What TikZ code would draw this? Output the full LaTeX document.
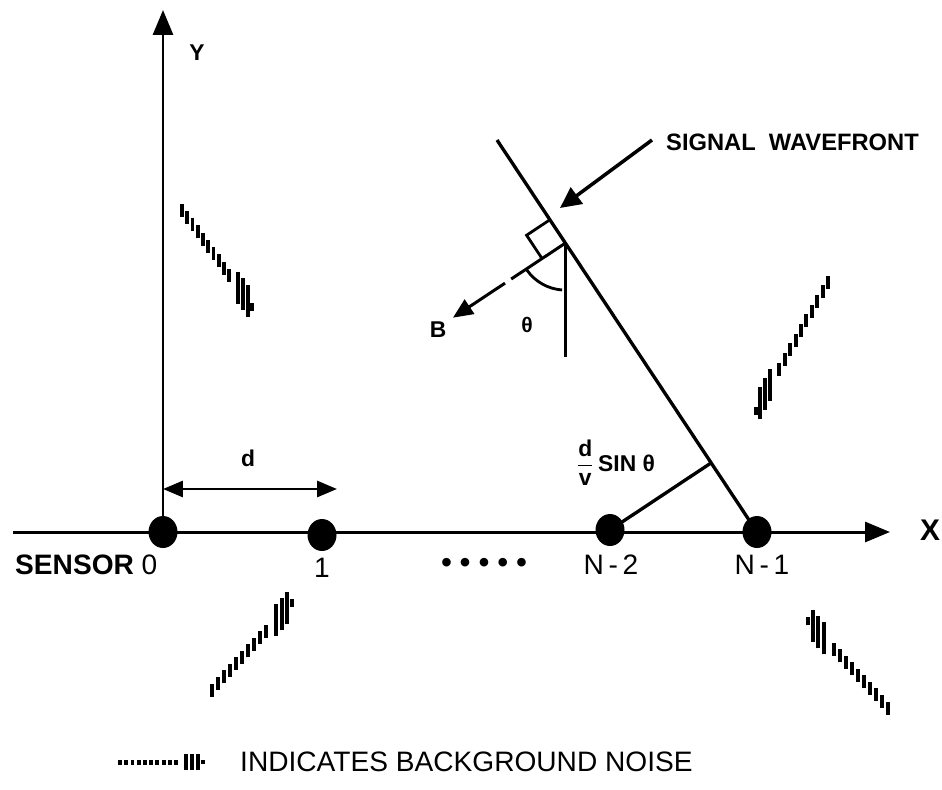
\documentclass[tikz,border=0pt]{standalone}
\usepackage{amsmath}
\usepackage{fontspec}
\setmainfont{Liberation Sans}
\usepackage{tikz}
\usetikzlibrary{calc}
\usetikzlibrary{shapes.geometric}
\usetikzlibrary{arrows.meta}
\tikzset{
    axisarrow/.style={
        line width=1.7pt,
        -{Triangle[length=0.5cm, width=0.4cm]}
    },
    % filled heads for the wavefront and the spacing
    signalarrow/.style={
        line width=2pt,
        -{Triangle[length=0.42cm, width=0.4cm]}
    },
    spacearrow/.style={
        line width=1.7pt,
        {Triangle[length=0.4cm, width=0.32cm]}-{Triangle[length=0.4cm, width=0.32cm]}
    },
    sensor/.style={ellipse, fill=black, inner sep=0pt, minimum width=0.58cm, minimum height=0.64cm},
    noisetick/.style={line width=2.2pt},
    boldlabel/.style={font=\fontsize{13}{15}\selectfont\bfseries},
    numlabel/.style={font=\fontsize{16}{18}\selectfont}
}
\newcommand{\noisemark}[4]{%
  \foreach \t in {0,0.075,...,0.74}
    \draw[noisetick] ($#1!\t!#2$) ++(0,-#3/2) -- ++(0,#3);
  \foreach \t in {0.8,0.87,0.94}
    \draw[noisetick] ($#1!\t!#2$) ++(0,-#4/2) -- ++(0,#4);
  \draw[noisetick] ($#1!1!#2$) ++(0,-#3/3) -- ++(0,#3*2/3);
}

\begin{document}
\begin{tikzpicture}[x=0.02cm, y=0.02cm]
   \useasboundingbox (0,0) rectangle (942,789);
   % sensors on the x axis
   \node[sensor] (s0) at (163,257) {};
   \node[sensor] (s1) at (322,254) {};
   \node[sensor] (s2) at (610,259) {};
   \node[sensor] (s3) at (757,257) {};
   \coordinate (xleft) at (13,257);
   \coordinate (xtip) at (890,257);
   \coordinate (ytip) at (163,779);
   \draw[axisarrow] (xleft) -- (xtip);
   \draw[axisarrow] (s0.center) -- (ytip);
   \node[font=\fontsize{17}{19}\selectfont\bfseries] (xlab) at (930,259) {X};
   \node[boldlabel] (ylab) at (197,736) {Y};
    \node[numlabel, anchor=west] (lab0) at (9,224) {\textbf{SENSOR} 0};
    \node[numlabel] (lab1) at (322,221) {1};
    \node[font=\fontsize{17}{19}\selectfont\bfseries] (dots) at (484,224) {• • • • •};
    \node[numlabel] (lab2) at (611,224) {N\,-\,2};
    \node[numlabel] (lab3) at (762,224) {N\,-\,1};
   % spacing d
   \coordinate (dleft) at (163,300);
   \coordinate (dright) at (337,300);
   \draw[spacearrow] (dleft) -- (dright);
   \node[boldlabel] (dlab) at (248,331) {d};
   % wavefront
   \coordinate (wtop) at (497,649);
   \draw[line width=1.9pt] (wtop) -- (s3.center);
   \coordinate (foot) at ($(wtop)!(s2.center)!(s3.center)$);
   \draw[line width=1.9pt] (s2.center) -- (foot);
   \node[anchor=west] (dvsin) at (570,326)
        {\fontsize{13}{15}\selectfont\bfseries $\dfrac{\textbf{d}}{\textbf{v}}$\,SIN θ};
   \node[font=\fontsize{13.5}{15}\selectfont\bfseries, anchor=west] (siglab) at (660,647) {SIGNAL\ \ WAVEFRONT};
   \coordinate (sigtail) at (652,649);
   \coordinate (sigtip) at (560,581);
   \draw[signalarrow] (sigtail) -- (sigtip);
   % normal B and the angle
   \coordinate (v) at ($(wtop)!0.263!(s3.center)$);
   \coordinate (vbot) at ($(v)+(0,-114)$);
   \draw[line width=1.7pt] (v) -- (vbot);
   \coordinate (btip) at ($(v)!2.7cm!90:(wtop)$);
   \draw[line width=1.7pt, dash pattern=on 1.3cm off 0.15cm,
         -{Triangle[length=0.4cm, width=0.34cm]}] (v) -- (btip);
   \node[boldlabel] (blab) at (438,459) {B};
   \coordinate (ra) at ($(v)!0.56cm!(wtop)$);
   \coordinate (rc) at ($(v)!0.56cm!90:(wtop)$);
   \draw[line width=1.6pt] (ra) -- ($(ra)+(rc)-(v)$) -- (rc);
   \draw[line width=1.6pt] ($(v)+(215:0.94cm)$) arc[start angle=215, end angle=266, radius=0.94cm];
   \node[font=\fontsize{12}{14}\selectfont\bfseries] (thlab) at (527,464) {θ};
   % background noise
   \noisemark{(182,579)}{(252,482)}{13}{32}
   \noisemark{(828,507)}{(756,378)}{13}{32}
   \noisemark{(212,99)}{(292,186)}{13}{32}
   \noisemark{(888,81)}{(808,168)}{13}{32}
   \noisemark{(120,27)}{(203,27)}{5}{16}
   \node[numlabel, anchor=west] (noiselab) at (234,27) {INDICATES BACKGROUND NOISE};
\end{tikzpicture}
\end{document}
